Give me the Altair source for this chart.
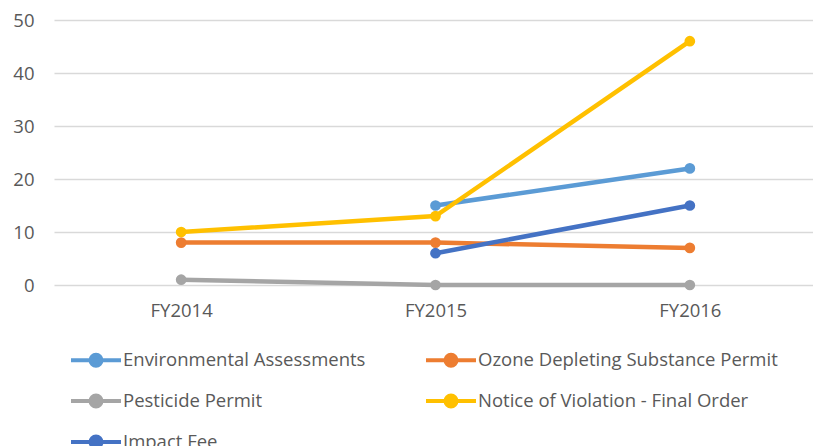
import altair as alt
import pandas as pd

years = ["FY2014", "FY2015", "FY2016"]
series = [
    "Environmental Assessments",
    "Ozone Depleting Substance Permit",
    "Pesticide Permit",
    "Notice of Violation - Final Order",
    "Impact Fee",
]
env_assess = [None, 15, 22]
ozone_permit = [8, 8, 7]
pesticide_permit = [1, 0, 0]
nov_final = [10, 13, 46]
impact_fee = [None, 6, 15]
colors = ["#5B9BD5", "#ED7D31", "#A5A5A5", "#FFC000", "#4472C4"]

all_vals = [env_assess, ozone_permit, pesticide_permit, nov_final, impact_fee]
rows = []
for s, vals in zip(series, all_vals):
    for y, v in zip(years, vals):
        if v is not None:
            rows.append({"year": y, "series": s, "value": v})
df = pd.DataFrame(rows)

FONT = "Open Sans"
TXT = "#595959"
FS = 18.5

sym_path = ("M-1,0H1M-0.22,0A0.22,0.22 0 1,1 0.22,0A0.22,0.22 0 1,1 -0.22,0Z")

color = alt.Color(
    "series:N",
    scale=alt.Scale(domain=series, range=colors),
    sort=None,
    legend=alt.Legend(
        title=None,
        orient="none",
        direction="horizontal",
        legendX=15,
        legendY=313,
        columns=2,
        columnPadding=52,
        rowPadding=-3,
        padding=0,
        symbolType=sym_path,
        symbolSize=2500,
        symbolStrokeWidth=4,
        symbolOpacity=1,
        labelFont=FONT,
        labelFontSize=FS,
        labelColor=TXT,
        labelOffset=0,
        labelLimit=0,
    ),
)

x = alt.X(
    "year:N",
    sort=years,
    scale=alt.Scale(type="point", padding=0.5),
    axis=alt.Axis(
        title=None,
        labelAngle=0,
        domain=False,
        ticks=False,
        grid=False,
        labelFont=FONT,
        labelFontSize=FS,
        labelColor=TXT,
        labelPadding=16,
    ),
)
y = alt.Y(
    "value:Q",
    scale=alt.Scale(domain=[0, 50], nice=False),
    axis=alt.Axis(
        title=None,
        values=[0, 10, 20, 30, 40, 50],
        domain=False,
        ticks=False,
        gridColor="#D9D9D9",
        gridWidth=1.3,
        labelFont=FONT,
        labelFontSize=FS,
        labelColor=TXT,
        labelPadding=20,
    ),
)

base = alt.Chart(df).encode(x=x, y=y, color=color)
lines = base.mark_line(strokeWidth=4.5, opacity=1)
points = base.mark_point(filled=True, size=115, opacity=1, shape="circle")

chart = (
    alt.layer(lines, points)
    .properties(
        width=763,
        height=265,
        background="white",
        autosize=alt.AutoSizeParams(type="none"),
        padding={"left": 46, "top": 12, "right": -4, "bottom": 161},
    )
    .configure_view(stroke="transparent", strokeWidth=0)
)

chart.save("out.html", embed_options={"renderer": "svg", "actions": False})
